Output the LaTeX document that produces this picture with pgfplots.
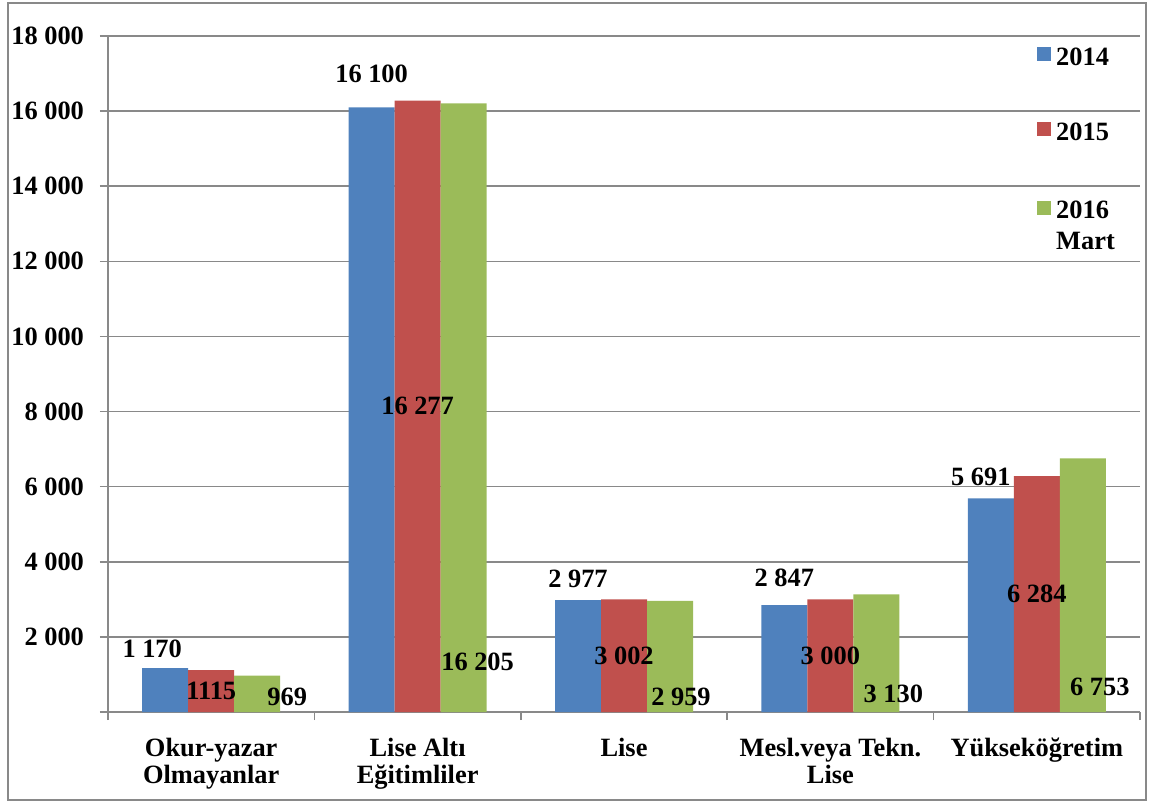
\documentclass[border=0pt]{standalone}
\usepackage{pgfplots}
\usepackage{pgfplotstable}
\pgfplotsset{compat=1.18}
\usepackage{fontspec}
\setmainfont{Liberation Serif}
\definecolor{c14}{HTML}{4F81BD}
\definecolor{c15}{HTML}{C0504D}
\definecolor{c16}{HTML}{9BBB59}
\definecolor{gridc}{HTML}{898989}

\pgfplotstableread[col sep=comma]{
x,a,al,ax,ady,b,bl,bdy,c,cl,cx,cdy
0,1170,1 170,-6.5,507,1115,1115,-557.5,969,969,15,-569
1,16100,16 100,0,900,16277,16 277,-8138.5,16205,16 205,7,-14874
2,2977,2 977,0,564,3002,3 002,-1501,2959,2 959,5.5,-2559
3,2847,2 847,0,734,3000,3 000,-1500,3130,3 130,8.5,-2650
4,5691,5 691,-5,566,6284,6 284,-3142,6753,6 753,8.5,-6088
}\data

\begin{document}
\begin{tikzpicture}[font=\fontsize{13.2}{15.5}\selectfont\bfseries]
\begin{axis}[name=ax,
  scale only axis, width=516pt, height=338pt,
  xmin=-0.5, xmax=4.5, ymin=0, ymax=18000,
  scaled y ticks=false,
  ybar=0pt, bar width=23pt,
  axis lines=left, axis line style={-, gridc, line width=0.8pt},
  tick align=outside, major tick length=4pt,
  tick style={gridc, line width=0.8pt},
  ytick={0,2000,...,18000},
  yticklabels={,2\ 000,4\ 000,6\ 000,8\ 000,10\ 000,12\ 000,14\ 000,16\ 000,18\ 000},
  yticklabel style={xshift=-4.5pt},
  ymajorgrids, grid style={gridc, line width=0.8pt},
  xtick={-0.5,0.5,...,4.5}, xticklabels={},
  extra x ticks={0,1,2,3,4},
  extra x tick labels={{Okur-yazar\\Olmayanlar},{Lise Altı\\Eğitimliler},{Lise},{Mesl.veya Tekn.\\Lise},{Yükseköğretim}},
  extra x tick style={major tick length=0pt, grid=none, xticklabel style={align=center, yshift=-9.5pt, text depth=0pt, font=\fontsize{13.2}{13.8}\selectfont\bfseries}},
  legend image code/.code={\fill[#1] (0pt,2pt) rectangle (7pt,9pt);},
  legend style={draw=none, fill=none, at={(0.900,0.984)}, anchor=north west,
    inner sep=0pt, row sep=27pt, column sep=2.5pt,
    cells={anchor=base west}, nodes={inner sep=0pt}},
  nodes near coords, point meta=explicit symbolic,
  nodes near coords align={center},
]
\addplot[fill=c14, draw=none,
  visualization depends on={\thisrow{ax} \as \lx},
  visualization depends on={\thisrow{ady} \as \dy},
  every node near coord/.append style={anchor=center, shift={(axis direction cs:0,\dy)}, xshift=\lx pt}]
  table[x=x, y=a, meta=al] {\data};
\addplot[fill=c15, draw=none,
  visualization depends on={\thisrow{bdy} \as \dy},
  every node near coord/.append style={anchor=center, shift={(axis direction cs:0,\dy)}}]
  table[x=x, y=b, meta=bl] {\data};
\addplot[fill=c16, draw=none,
  visualization depends on={\thisrow{cx} \as \lx},
  visualization depends on={\thisrow{cdy} \as \dy},
  every node near coord/.append style={anchor=center, shift={(axis direction cs:0,\dy)}, xshift=\lx pt}]
  table[x=x, y=c, meta=cl] {\data};
\legend{2014,2015,{\begin{tabular}[t]{@{}l@{}}2016\\Mart\end{tabular}}}
\end{axis}
\draw[gridc, line width=0.8pt] ([xshift=-50pt,yshift=-44pt]ax.south west) rectangle ([xshift=3pt,yshift=16.5pt]ax.north east);
\pgfresetboundingbox
\path[use as bounding box] ([xshift=-54pt,yshift=-46.5pt]ax.south west) rectangle ([xshift=5pt,yshift=18pt]ax.north east);
\end{tikzpicture}
\end{document}
